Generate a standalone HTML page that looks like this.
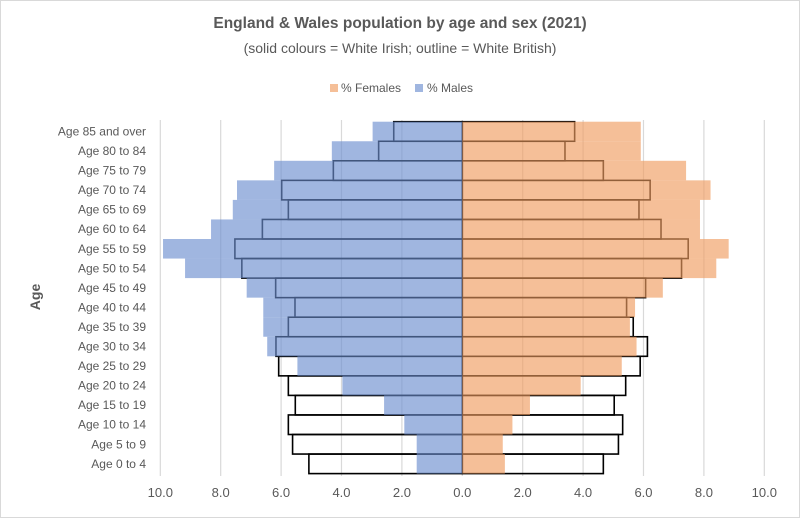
<!DOCTYPE html>
<html><head><meta charset="utf-8"><style>
body{margin:0;background:#fff}
svg{display:block;font-family:"Liberation Sans",sans-serif}
</style></head><body>
<svg width="800" height="518" viewBox="0 0 800 518" xmlns="http://www.w3.org/2000/svg">
<rect x="0.5" y="0.5" width="799" height="517" fill="#fff" stroke="#d9d9d9"/>
<text x="400" y="28" text-anchor="middle" font-size="15.5" font-weight="bold" fill="#595959">England &amp; Wales population by age and sex (2021)</text>
<text x="400" y="53" text-anchor="middle" font-size="14" fill="#595959">(solid colours = White Irish; outline = White British)</text>
<rect x="330" y="84" width="8" height="8" fill="#f5bf98"/>
<text x="341" y="92" font-size="12" fill="#595959">% Females</text>
<rect x="415" y="84" width="8" height="8" fill="#a0b6e0"/>
<text x="427" y="92" font-size="12" fill="#595959">% Males</text>
<g id="grid" stroke="#d9d9d9" stroke-width="1.2"></g>
<g id="outl"></g>
<g id="fill"></g>
<g id="labels" font-size="12" fill="#595959" text-anchor="end"></g>
<g id="ticks" font-size="13" fill="#595959" text-anchor="middle"></g>
<text transform="translate(40,297) rotate(-90)" text-anchor="middle" font-size="14" font-weight="bold" fill="#595959">Age</text>
</svg>
<script>
var ns="http://www.w3.org/2000/svg";
function el(p,t,a,txt){var e=document.createElementNS(ns,t);for(var k in a)e.setAttribute(k,a[k]);if(txt)e.textContent=txt;document.getElementById(p).appendChild(e);}
var x0=462.3,s=30.2,t0=121.7,h=19.55;
for(var v=-10;v<=10;v+=2){var x=x0+v*s;el('grid','line',{x1:x,x2:x,y1:120,y2:476});el('ticks','text',{x:x,y:497},Math.abs(v).toFixed(1));}
var labs=["Age 85 and over","Age 80 to 84","Age 75 to 79","Age 70 to 74","Age 65 to 69","Age 60 to 64","Age 55 to 59","Age 50 to 54","Age 45 to 49","Age 40 to 44","Age 35 to 39","Age 30 to 34","Age 25 to 29","Age 20 to 24","Age 15 to 19","Age 10 to 14","Age 5 to 9","Age 0 to 4"];
var mf=[2.97,4.32,6.23,7.46,7.6,8.32,9.91,9.18,7.14,6.59,6.59,6.46,5.46,3.97,2.59,1.92,1.51,1.51];
var mo=[2.27,2.77,4.27,5.98,5.76,6.62,7.53,7.3,6.18,5.54,5.76,6.17,6.08,5.76,5.53,5.76,5.62,5.08];
var ff=[5.91,5.91,7.41,8.22,7.87,7.87,8.82,8.41,6.64,5.72,5.55,5.77,5.28,3.92,2.24,1.66,1.34,1.41];
var fo=[3.72,3.40,4.67,6.22,5.85,6.58,7.48,7.26,6.07,5.44,5.66,6.13,5.89,5.41,5.03,5.31,5.17,4.67];
for(var i=0;i<18;i++){var y=t0+i*h;
el('labels','text',{x:146,y:y+h/2+4},labs[i]);
el('outl','rect',{x:x0-mo[i]*s,y:y,width:mo[i]*s,height:h,fill:'none',stroke:'#000','stroke-width':1.6});
el('outl','rect',{x:x0,y:y,width:fo[i]*s,height:h,fill:'none',stroke:'#000','stroke-width':1.6});
el('fill','rect',{x:x0-mf[i]*s,y:y,width:mf[i]*s,height:h,fill:'#6d8fd0','fill-opacity':0.65});
el('fill','rect',{x:x0,y:y,width:ff[i]*s,height:h,fill:'#f09d61','fill-opacity':0.65});
}
</script>
</body></html>
